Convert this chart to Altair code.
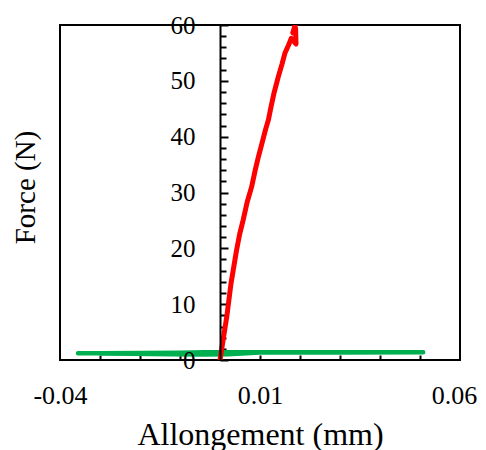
import altair as alt
import pandas as pd

# ---- data ----
red_x = [0.0, 0.0017, 0.00275, 0.0041, 0.0049, 0.0058, 0.0068, 0.0079, 0.0088, 0.0096,
         0.0107, 0.0114, 0.0121, 0.0128, 0.0135, 0.0146, 0.0155, 0.01625, 0.0172, 0.0178,
         0.0190, 0.0189, 0.0182, 0.0188]
red_f = [0.0, 7.8, 13.7, 19.5, 22.5, 25.1, 28.3, 31.0, 34.0, 36.4,
         39.4, 41.3, 43.0, 45.5, 47.8, 50.8, 53.0, 55.0, 56.5, 57.6,
         56.6, 59.4, 58.6, 60.0]

green_x = [-0.0355, -0.03, -0.02, -0.01, -0.004, 0.0, 0.01, 0.02, 0.03, 0.04, 0.0508,
           0.03, 0.01, 0.002, -0.004, -0.012, -0.022, -0.03]
green_f = [1.2, 1.22, 1.27, 1.32, 1.4, 1.4, 1.4, 1.4, 1.38, 1.37, 1.37,
           1.36, 1.33, 1.05, 1.0, 1.05, 1.1, 1.15]

x_label_values = [-0.04, 0.01, 0.06]
x_tick_values = [-0.03, -0.02, -0.01, 0.0, 0.01, 0.02, 0.03, 0.04, 0.05]
y_label_values = [0, 10, 20, 30, 40, 50, 60]
y_tick_values = [0, 2, 4, 6, 8, 10, 12, 14, 16, 18, 20, 22, 24, 26, 28, 30,
                 32, 34, 36, 38, 40, 42, 44, 46, 48, 50, 52, 54, 56, 58, 60]

FONT = "Liberation Serif"

red_df = pd.DataFrame({"x": red_x, "f": red_f, "i": list(range(len(red_x)))})
green_df = pd.DataFrame({"x": green_x, "f": green_f, "i": list(range(len(green_x)))})

xs = alt.Scale(domain=[-0.04, 0.06], nice=False, zero=False)
ys = alt.Scale(domain=[0, 60], nice=False, zero=False)

green = alt.Chart(green_df).mark_line(
    color="#00B050", strokeWidth=4.5, clip=True, strokeCap="round", strokeJoin="round"
).encode(
    x=alt.X("x:Q", scale=xs, axis=alt.Axis(
        orient="bottom", values=x_label_values, ticks=False, tickSize=0,
        domain=False, grid=False, labelFont=FONT, labelFontSize=26,
        labelColor="black", labelPadding=22, labelFlush=False, labelOverlap=False,
        labelOffset={"condition": {"test": "datum.value > 0.05", "value": -6}, "value": 0},
        labelExpr="datum.value < 0 ? '-' + format(abs(datum.value), '.2f') : format(datum.value, '.2f')",
        title="Allongement (mm)", titleFont=FONT, titleFontSize=32,
        titleFontWeight="normal", titleColor="black", titleX=200, titleY=84,
        titleAlign="center", titleBaseline="alphabetic", zindex=1)),
    y=alt.Y("f:Q", scale=ys, axis=alt.Axis(
        orient="left", offset=-160, values=y_label_values, ticks=False, tickSize=0,
        domain=True, domainColor="black", domainWidth=2, grid=False,
        labelFont=FONT, labelFontSize=25, labelColor="black", labelPadding=25,
        labelFlush=False, labelOverlap=False,
        title="Force (N)", titleFont=FONT, titleFontSize=29, titleFontWeight="normal",
        titleColor="black", titleX=-186, titleY=162, titleAngle=270,
        titleAlign="center", titleBaseline="alphabetic", zindex=1)),
    order=alt.Order("i:Q"),
)

red = alt.Chart(red_df).mark_line(
    color="#FF0000", strokeWidth=5, clip=True, strokeCap="round", strokeJoin="round"
).encode(
    x=alt.X("x:Q", scale=xs, axis=alt.Axis(
        orient="top", offset=-335, values=x_tick_values, labels=False,
        domain=False, grid=False, ticks=True, tickSize=5, tickWidth=2,
        tickColor="black", title=None)),
    y=alt.Y("f:Q", scale=ys, axis=alt.Axis(
        orient="right", offset=-240, values=y_tick_values, labels=False,
        domain=False, grid=False, ticks=True,
        tickSize={"condition": {"test": "datum.value % 10 === 0", "value": 8}, "value": 6},
        tickWidth=2, tickColor="black", title=None)),
    order=alt.Order("i:Q"),
)

chart = alt.layer(green, red).resolve_axis(
    x="independent", y="independent"
).properties(
    width=400, height=335,
    autosize=alt.AutoSizeParams(type="none"),
    padding={"left": 52, "top": 17, "right": 18, "bottom": 95},
    background="white",
).configure_view(stroke="black", strokeWidth=2)

chart.save("out.html", embed_options={"renderer": "svg", "actions": False})
